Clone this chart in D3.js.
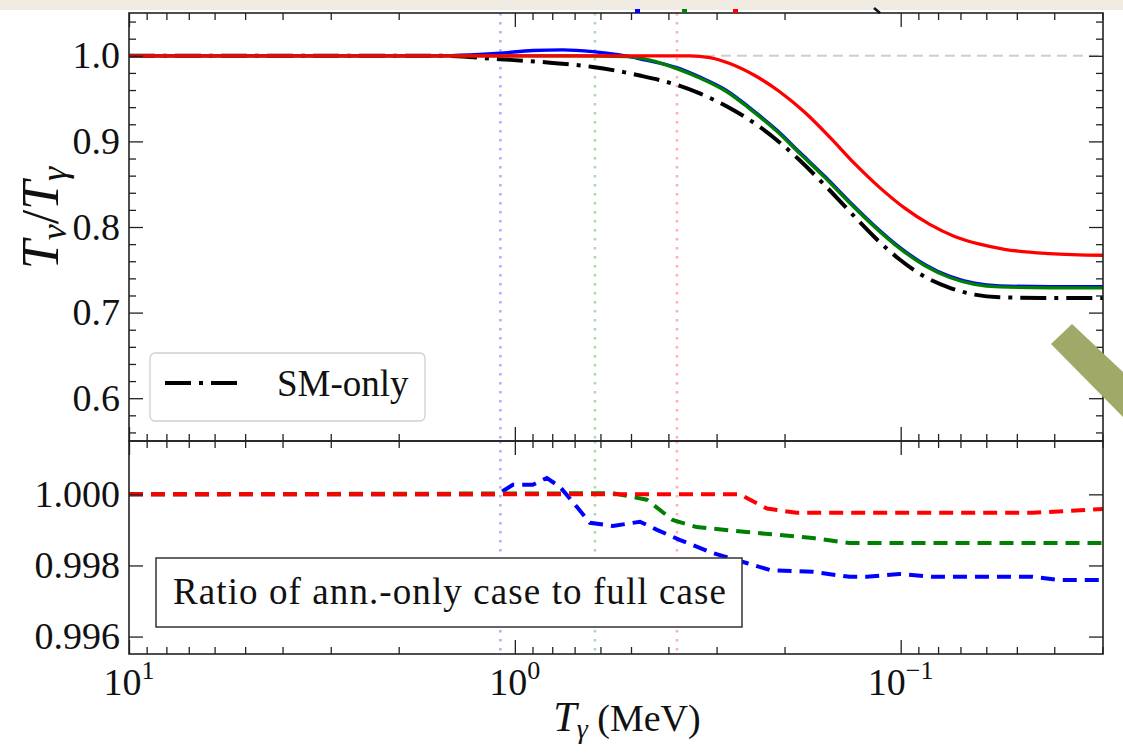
<!DOCTYPE html>
<html><head><meta charset="utf-8">
<script src="https://cdn.jsdelivr.net/npm/d3@7"></script>
<style>
html,body{margin:0;padding:0;background:#fff;}
svg{display:block;}
text{font-family:"Liberation Serif","DejaVu Serif",serif;fill:#111;}
</style></head><body>
<svg id="c" width="1123" height="756"></svg>
<script>
// ---------- data ----------
// top panel: T_nu / T_gamma versus T_gamma (MeV)
const smT   = [10, 1.564, 1.094, 0.811, 0.628, 0.4745, 0.3805, 0.3317, 0.2723, 0.2318, 0.1827, 0.1574, 0.1355, 0.1168, 0.1006, 0.0867, 0.0746, 0.0643, 0.0554, 0.0411, 0.0299];
const smR   = [1.0, 1.0, 0.996, 0.992, 0.987, 0.977, 0.966, 0.956, 0.937, 0.917, 0.878, 0.849, 0.818, 0.788, 0.762, 0.742, 0.729, 0.721, 0.718, 0.717, 0.717];
const blueT = [10, 1.6, 1.31, 1.094, 0.898, 0.751, 0.628, 0.535, 0.4745, 0.3805, 0.3317, 0.2823, 0.2461, 0.2096, 0.1827, 0.1574, 0.1355, 0.1168, 0.1006, 0.0867, 0.0746, 0.0643, 0.0554, 0.0411, 0.0299];
const blueR = [1.0, 1.0, 1.001, 1.003, 1.0062, 1.007, 1.005, 1.001, 0.9965, 0.9862, 0.9752, 0.9593, 0.9393, 0.9133, 0.8873, 0.8593, 0.8293, 0.8013, 0.7763, 0.7563, 0.7423, 0.7343, 0.7313, 0.7303, 0.7303];
const greenT = [10, 0.70, 0.5128, 0.447, 0.3805, 0.3317, 0.2823, 0.2461, 0.2096, 0.1827, 0.1574, 0.1355, 0.1168, 0.1006, 0.0867, 0.0746, 0.0643, 0.0554, 0.0411, 0.0299];
const greenR = [1.0, 1.0, 0.999, 0.995, 0.985, 0.974, 0.958, 0.938, 0.912, 0.886, 0.858, 0.828, 0.800, 0.775, 0.755, 0.741, 0.733, 0.730, 0.729, 0.729];
const redT  = [10, 0.3521, 0.3125, 0.2773, 0.2388, 0.2058, 0.1773, 0.1527, 0.1316, 0.1133, 0.0976, 0.0841, 0.0725, 0.0624, 0.0538, 0.0411, 0.0299];
const redR  = [1.0, 1.0, 0.998, 0.991, 0.977, 0.958, 0.934, 0.905, 0.874, 0.846, 0.822, 0.803, 0.789, 0.780, 0.774, 0.769, 0.767];
// bottom panel: ratio of ann.-only case to full case
const rBlueT = [10, 1.107, 1.012, 0.898, 0.826, 0.764, 0.691, 0.639, 0.557, 0.474, 0.428, 0.374, 0.307, 0.251, 0.218, 0.169, 0.1356, 0.1225, 0.1007, 0.0826, 0.0455, 0.0387, 0.0299];
const rBlueR = [1.0, 1.0, 1.00027, 1.00027, 1.00046, 1.00021, 0.99965, 0.9992, 0.99911, 0.99923, 0.9990, 0.99872, 0.99835, 0.99807, 0.99787, 0.99782, 0.99768, 0.99768, 0.99776, 0.99768, 0.99768, 0.99759, 0.99759];
const rGreenT = [10, 0.557, 0.455, 0.390, 0.338, 0.251, 0.169, 0.1356, 0.0299];
const rGreenR = [1.0, 1.00003, 0.99985, 0.99928, 0.99908, 0.99894, 0.99877, 0.99863, 0.99863];
const rRedT = [10, 0.261, 0.222, 0.186, 0.0455, 0.0299];
const rRedR = [1.0, 1.0, 0.9996, 0.99948, 0.99948, 0.99959];
// vertical markers (T_gamma values) and their colours
const vlineT = [1.09, 0.62, 0.38];
const vlineColors = ["#b0b0ff", "#b0d8b0", "#ffb0b0"];
// ticks
const xMajor = [10, 1, 0.1];
const xMajorExp = ["1", "0", "\u22121"];
const xMinor = [9,8,7,6,5,4,3,2, 0.9,0.8,0.7,0.6,0.5,0.4,0.3,0.2, 0.09,0.08,0.07,0.06,0.05,0.04,0.03];
const yTopMajor = [0.6, 0.7, 0.8, 0.9, 1.0];
const yTopMinor = [0.56,0.58,0.62,0.64,0.66,0.68,0.72,0.74,0.76,0.78,0.82,0.84,0.86,0.88,0.92,0.94,0.96,0.98,1.02,1.04];
const yBotMajor = [0.996, 0.998, 1.000];

// ---------- layout ----------
const L = 129, R = 1103, T1 = 13, B1 = 441, B2 = 654;
const DASHDOT = "26,8,4,8";
const svg = d3.select("#c");
svg.append("rect").attr("width",1123).attr("height",756).attr("fill","#fff");
svg.append("rect").attr("width",1123).attr("height",10).attr("fill","#efebe2");

const x = d3.scaleLog().domain([10, 0.0299]).range([L, R]);
const yTop = d3.scaleLinear().domain([0.55, 1.05]).range([B1, T1]);
const yBot = d3.scaleLinear().domain([0.99551, 1.0015]).range([B2, B1]);

const defs = svg.append("defs");
defs.append("clipPath").attr("id","cTop").append("rect").attr("x",L).attr("y",T1).attr("width",R-L).attr("height",B1-T1);
defs.append("clipPath").attr("id","cBot").append("rect").attr("x",L).attr("y",B1).attr("width",R-L).attr("height",B2-B1);

const gTop = svg.append("g").attr("clip-path","url(#cTop)");
const gBot = svg.append("g").attr("clip-path","url(#cBot)");

// vertical dotted lines
vlineT.forEach((t,i)=>{
  [[gTop,T1,B1],[gBot,B1,B2]].forEach(([g,a,b])=>{
    g.append("line").attr("x1",x(t)).attr("x2",x(t)).attr("y1",a).attr("y2",b)
      .attr("stroke",vlineColors[i]).attr("stroke-width",2.6).attr("stroke-dasharray","2.6,6.4");
  });
});
// gray dashed reference at 1.0
gTop.append("line").attr("x1",L).attr("x2",R).attr("y1",yTop(1)).attr("y2",yTop(1))
  .attr("stroke","#cfcfcf").attr("stroke-width",2).attr("stroke-dasharray","10,6");

const lineTop = d3.line().x(d=>x(d[0])).y(d=>yTop(d[1])).curve(d3.curveMonotoneX);
const lineBot = d3.line().x(d=>x(d[0])).y(d=>yBot(d[1])).curve(d3.curveLinear);
const zip = (a,b)=>a.map((v,i)=>[v,b[i]]);

gTop.append("path").attr("d", lineTop(zip(smT,smR))).attr("fill","none").attr("stroke","#000")
  .attr("stroke-width",4).attr("stroke-dasharray",DASHDOT);
gTop.append("path").attr("d", lineTop(zip(blueT,blueR))).attr("fill","none").attr("stroke","#0000ff").attr("stroke-width",3.3);
gTop.append("path").attr("d", lineTop(zip(greenT,greenR))).attr("fill","none").attr("stroke","#008000").attr("stroke-width",3.3);
gTop.append("path").attr("d", lineTop(zip(redT,redR))).attr("fill","none").attr("stroke","#ff0000").attr("stroke-width",3.3);

gBot.append("path").attr("d", lineBot(zip(rBlueT,rBlueR))).attr("fill","none").attr("stroke","#0000ff").attr("stroke-width",4).attr("stroke-dasharray","14,8");
gBot.append("path").attr("d", lineBot(zip(rGreenT,rGreenR))).attr("fill","none").attr("stroke","#008000").attr("stroke-width",4).attr("stroke-dasharray","14,8");
gBot.append("path").attr("d", lineBot(zip(rRedT,rRedR))).attr("fill","none").attr("stroke","#ff0000").attr("stroke-width",4).attr("stroke-dasharray","14,8");

// legend (top panel)
svg.append("rect").attr("x",150).attr("y",353).attr("width",275).attr("height",68).attr("rx",5)
  .attr("fill","#fff").attr("stroke","#d0d0d0").attr("stroke-width",1.3);
svg.append("line").attr("x1",165).attr("x2",239).attr("y1",383).attr("y2",383)
  .attr("stroke","#000").attr("stroke-width",4).attr("stroke-dasharray",DASHDOT);
svg.append("text").attr("x",277).attr("y",396).attr("font-size",37).text("SM-only");

// text box (bottom panel)
svg.append("rect").attr("x",156).attr("y",558).attr("width",586).attr("height",69)
  .attr("fill","#fff").attr("stroke","#333").attr("stroke-width",1.5);
svg.append("text").attr("x",173).attr("y",604).attr("font-size",37).attr("textLength",553)
  .text("Ratio of ann.-only case to full case");

// ---------- axes ----------
function tickAxis(axis, vals, len, tr){
  const g = svg.append("g").attr("transform",tr)
    .call(axis.tickValues(vals).tickSize(-len).tickFormat(""));
  g.select(".domain").remove();
  g.selectAll(".tick line").attr("stroke","#222").attr("stroke-width",1.3);
  return g;
}
[[T1,B1],[B1,B2]].forEach(([a,b])=>{
  tickAxis(d3.axisTop(x), xMajor, 14, `translate(0,${a})`);
  tickAxis(d3.axisTop(x), xMinor, 7, `translate(0,${a})`);
  tickAxis(d3.axisBottom(x), xMajor, 14, `translate(0,${b})`);
  tickAxis(d3.axisBottom(x), xMinor, 7, `translate(0,${b})`);
});
tickAxis(d3.axisRight(yTop), yTopMajor, 14, `translate(${R},0)`);
tickAxis(d3.axisRight(yTop), yTopMinor, 7, `translate(${R},0)`);
tickAxis(d3.axisLeft(yTop), yTopMinor, 7, `translate(${L},0)`);
tickAxis(d3.axisRight(yBot), yBotMajor, 14, `translate(${R},0)`);

function labelAxis(axis, vals, fmt){
  const g = svg.append("g").attr("transform",`translate(${L},0)`)
    .call(axis.tickValues(vals).tickSize(-14).tickPadding(9).tickFormat(fmt));
  g.select(".domain").remove();
  g.selectAll(".tick line").attr("stroke","#222").attr("stroke-width",1.3);
  g.attr("font-family",null).attr("font-size",null);
  g.selectAll(".tick text").attr("font-size",38).attr("fill","#111")
    .style("font-family",'"Liberation Serif","DejaVu Serif",serif');
}
labelAxis(d3.axisLeft(yTop), yTopMajor, d3.format(".1f"));
labelAxis(d3.axisLeft(yBot), yBotMajor, d3.format(".3f"));

// x tick labels 10^n
xMajor.forEach((v,i)=>{
  const t = svg.append("text").attr("x",x(v)).attr("y",695).attr("text-anchor","middle").attr("font-size",38);
  t.append("tspan").text("10");
  t.append("tspan").attr("dy",-16).attr("font-size",26).text(xMajorExp[i]);
});

// frames
svg.append("rect").attr("x",L).attr("y",T1).attr("width",R-L).attr("height",B1-T1)
  .attr("fill","none").attr("stroke","#222").attr("stroke-width",1.6);
svg.append("rect").attr("x",L).attr("y",B1).attr("width",R-L).attr("height",B2-B1)
  .attr("fill","none").attr("stroke","#222").attr("stroke-width",1.6);

// axis titles
const yl = svg.append("text").attr("transform","translate(58,218) rotate(-90)").attr("text-anchor","middle").attr("font-size",52);
yl.append("tspan").attr("font-style","italic").text("T");
yl.append("tspan").attr("font-style","italic").attr("font-size",36).attr("dy",8).text("\u03bd");
yl.append("tspan").attr("dy",-8).text("/");
yl.append("tspan").attr("font-style","italic").text("T");
yl.append("tspan").attr("font-style","italic").attr("font-size",36).attr("dy",8).text("\u03b3");

const xl = svg.append("text").attr("x",627).attr("y",731).attr("text-anchor","middle").attr("font-size",38);
xl.append("tspan").attr("font-style","italic").attr("font-size",42).text("T");
xl.append("tspan").attr("font-style","italic").attr("font-size",28).attr("dy",7).text("\u03b3");
xl.append("tspan").attr("dy",-7).text(" (MeV)");

// slide decorations: fragments above the frame and the olive bar
[["#0000ff",635],["#008000",682],["#ff0000",733]].forEach(([c,px])=>{
  svg.append("rect").attr("x",px).attr("y",9).attr("width",5).attr("height",4).attr("fill",c);
});
svg.append("line").attr("x1",874).attr("y1",8).attr("x2",880).attr("y2",13).attr("stroke","#111").attr("stroke-width",2.5);
svg.append("polygon").attr("points","1051,344 1072,324 1123,372 1123,417").attr("fill","#a0a968");
</script>
</body></html>
